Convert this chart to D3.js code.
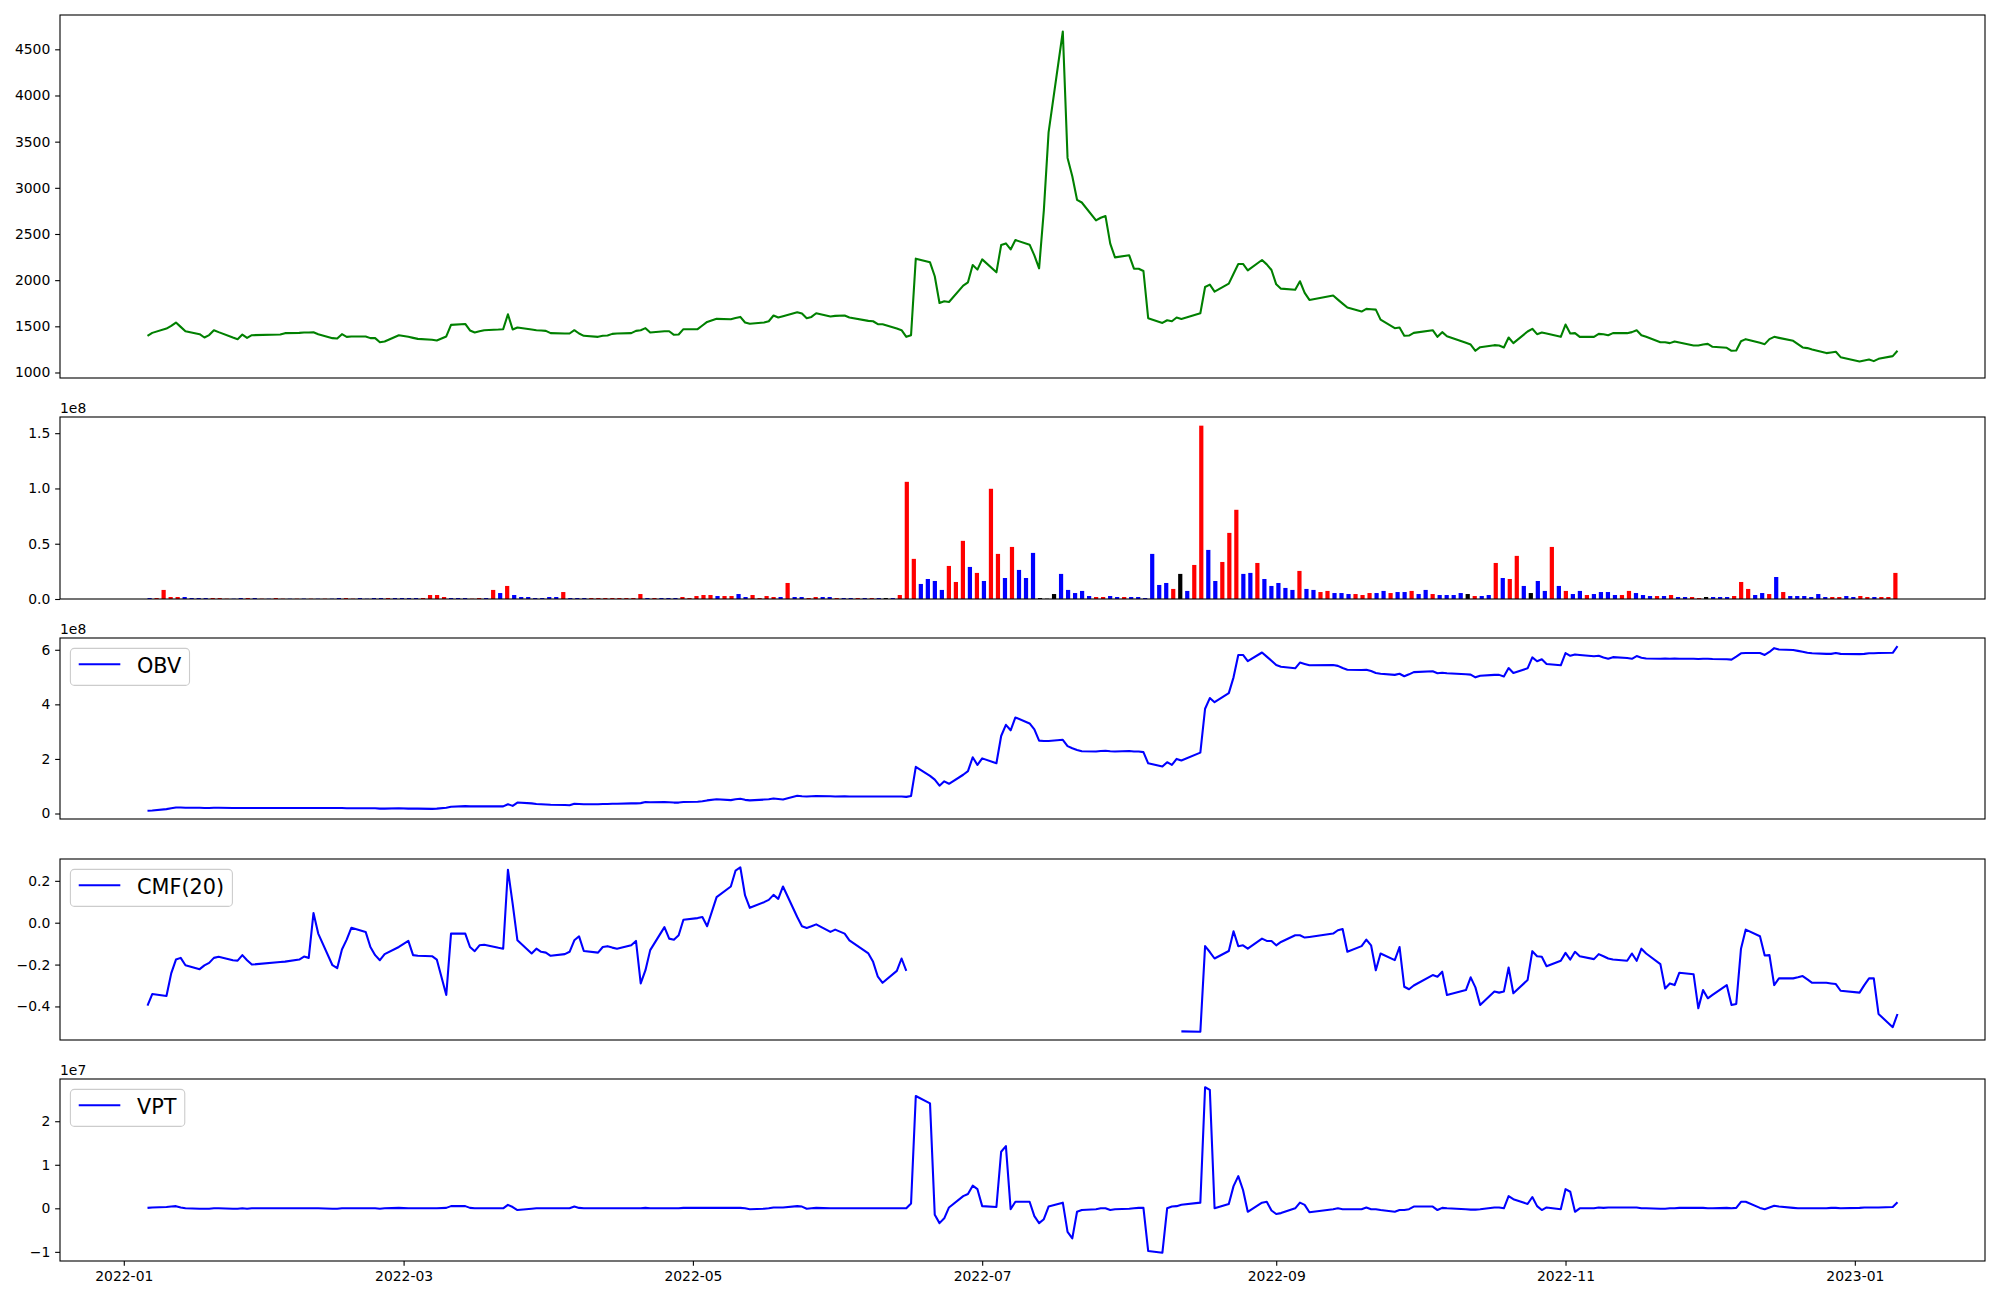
<!DOCTYPE html>
<html><head><meta charset="utf-8">
<script src="https://cdn.jsdelivr.net/npm/d3@7"></script>
<style>
html,body{margin:0;padding:0;background:#fff;}
svg{display:block;font-family:"DejaVu Sans",sans-serif;}
</style></head><body>
<svg id="chart" width="2000" height="1300"></svg>
<script>
// ---------------- DATA ----------------
const dates = [
"2022-01-06","2022-01-07","2022-01-10","2022-01-11","2022-01-12","2022-01-13","2022-01-14","2022-01-17","2022-01-18","2022-01-19","2022-01-20","2022-01-21","2022-01-24","2022-01-25","2022-01-26","2022-01-27","2022-01-28",
"2022-02-03","2022-02-04","2022-02-07","2022-02-08","2022-02-09","2022-02-10","2022-02-11","2022-02-14","2022-02-15","2022-02-16","2022-02-17","2022-02-18","2022-02-21","2022-02-22","2022-02-23","2022-02-24","2022-02-25","2022-02-28",
"2022-03-02","2022-03-03","2022-03-04","2022-03-07","2022-03-08","2022-03-10","2022-03-11","2022-03-14","2022-03-15","2022-03-16","2022-03-17","2022-03-18","2022-03-21","2022-03-22","2022-03-23","2022-03-24","2022-03-25","2022-03-28","2022-03-29","2022-03-30","2022-03-31",
"2022-04-01","2022-04-04","2022-04-05","2022-04-06","2022-04-07","2022-04-08","2022-04-11","2022-04-12","2022-04-13","2022-04-14","2022-04-15","2022-04-18","2022-04-19","2022-04-20","2022-04-21","2022-04-22","2022-04-25","2022-04-26","2022-04-27","2022-04-28","2022-04-29",
"2022-05-02","2022-05-03","2022-05-04","2022-05-06","2022-05-09","2022-05-10","2022-05-11","2022-05-12","2022-05-13","2022-05-16","2022-05-17","2022-05-18","2022-05-19","2022-05-20","2022-05-23","2022-05-24","2022-05-25","2022-05-26","2022-05-27","2022-05-30","2022-05-31",
"2022-06-02","2022-06-03","2022-06-07","2022-06-08","2022-06-09","2022-06-10","2022-06-13","2022-06-14","2022-06-15","2022-06-16","2022-06-17","2022-06-20","2022-06-21","2022-06-22","2022-06-23","2022-06-24","2022-06-27","2022-06-28","2022-06-29","2022-06-30",
"2022-07-01","2022-07-04","2022-07-05","2022-07-06","2022-07-07","2022-07-08","2022-07-11","2022-07-12","2022-07-13","2022-07-14","2022-07-15","2022-07-18","2022-07-19","2022-07-20","2022-07-21","2022-07-22","2022-07-25","2022-07-26","2022-07-27","2022-07-28","2022-07-29",
"2022-08-01","2022-08-02","2022-08-03","2022-08-04","2022-08-05","2022-08-08","2022-08-09","2022-08-10","2022-08-11","2022-08-12","2022-08-16","2022-08-17","2022-08-18","2022-08-19","2022-08-22","2022-08-23","2022-08-24","2022-08-25","2022-08-26","2022-08-29","2022-08-30","2022-08-31",
"2022-09-01","2022-09-02","2022-09-05","2022-09-06","2022-09-07","2022-09-08","2022-09-13","2022-09-14","2022-09-15","2022-09-16","2022-09-19","2022-09-20","2022-09-21","2022-09-22","2022-09-23","2022-09-26","2022-09-27","2022-09-28","2022-09-29","2022-09-30",
"2022-10-04","2022-10-05","2022-10-06","2022-10-07","2022-10-11","2022-10-12","2022-10-13","2022-10-14","2022-10-17","2022-10-18","2022-10-19","2022-10-20","2022-10-21","2022-10-24","2022-10-25","2022-10-26","2022-10-27","2022-10-28","2022-10-31",
"2022-11-01","2022-11-02","2022-11-03","2022-11-04","2022-11-07","2022-11-08","2022-11-09","2022-11-10","2022-11-11","2022-11-14","2022-11-15","2022-11-16","2022-11-17","2022-11-18","2022-11-21","2022-11-22","2022-11-23","2022-11-24","2022-11-25","2022-11-28","2022-11-29","2022-11-30",
"2022-12-01","2022-12-02","2022-12-05","2022-12-06","2022-12-07","2022-12-08","2022-12-09","2022-12-12","2022-12-13","2022-12-14","2022-12-15","2022-12-16","2022-12-19","2022-12-20","2022-12-21","2022-12-22","2022-12-23","2022-12-26","2022-12-27","2022-12-28","2022-12-29",
"2023-01-02","2023-01-03","2023-01-04","2023-01-05","2023-01-06","2023-01-09","2023-01-10"
];

const closePrice = [
1397,1429,1476,1505,1541,1494,1447,1415,1379,1405,1458,1437,1379,1361,1411,1375,1404,
1411,1426,1429,1433,1433,1436,1415,1372,1368,1415,1386,1390,1390,1372,1372,1328,1336,1404,
1386,1375,1364,1354,1346,1390,1516,1526,1455,1433,1447,1458,1465,1469,1631,1465,1487,1465,1458,1455,1451,
1426,1422,1422,1458,1422,1397,1386,1397,1400,1418,1422,1426,1451,1458,1480,1433,1447,1447,1408,1411,1469,
1469,1509,1548,1581,1577,1591,1602,1541,1527,1541,1555,1617,1595,1609,1653,1638,1588,1602,1642,1606,1613,
1617,1595,1559,1555,1523,1523,1476,1458,1386,1404,2233,2193,2042,1753,1771,1764,1941,1977,2164,2114,
2225,2085,2380,2398,2333,2434,2384,2269,2128,2755,3601,4693,3324,3126,2870,2841,2647,2676,2694,2395,2247,
2269,2124,2124,2099,1588,1537,1566,1555,1595,1580,1642,1926,1952,1876,1962,2070,2175,2175,2106,2218,2171,2110,
1955,1908,1897,1988,1862,1786,1833,1789,1746,1703,1660,1689,1685,1681,1573,1480,1487,1397,1400,1429,
1458,1386,1437,1393,1321,1303,1235,1274,1296,1292,1271,1379,1318,1444,1473,1415,1433,1422,1386,
1519,1422,1426,1386,1386,1418,1415,1404,1426,1426,1437,1458,1404,1386,1328,1328,1318,1336,1325,1292,1292,1303,
1310,1278,1267,1235,1238,1339,1361,1321,1307,1361,1386,1375,1343,1307,1271,1264,1249,1210,1217,1224,1166,
1119,1130,1141,1123,1148,1177,1235
];

// traded volume, millions of shares
const volumeM = [
0.9,0.9,8.2,1.8,1.8,1.8,0.9,0.9,0.9,0.9,0.9,0.3,0.3,0.9,0.9,0.9,0.3,
0.3,0.9,0.3,0.3,0.3,0.4,0.3,0.3,0.3,0.3,0.9,0.9,0.3,0.9,0.3,0.9,0.9,0.9,
0.9,0.9,0.9,0.9,0.9,3.6,3.6,1.8,0.9,0.9,0.9,0.3,0.9,0.9,8.2,5.4,11.8,3.6,1.8,1.8,0.9,
0.9,1.8,1.8,6.3,0.9,0.9,0.9,0.9,0.9,0.9,0.9,0.9,0.9,0.9,4.5,0.9,0.9,0.9,0.9,0.9,1.8,
0.9,2.7,3.6,3.6,2.7,2.7,2.7,4.5,1.8,3.6,0.9,2.7,1.8,1.8,14.5,1.8,1.8,0.9,1.8,1.8,1.8,
0.9,0.9,0.9,0.9,0.9,0.9,0.9,0.9,0.9,3.6,106,36.3,13.6,18.1,16.3,8.2,29.9,15.4,52.6,29.0,
23.6,16.3,99.7,40.8,19.0,47.1,26.3,19.0,41.7,0.9,0.3,4.5,22.7,8.2,5.4,7.3,2.7,1.8,1.8,2.7,1.8,
1.8,1.8,1.8,0.9,40.8,12.7,14.5,9.1,22.7,7.3,30.8,156.8,44.4,16.3,33.5,59.8,80.7,22.7,23.6,32.6,18.1,11.8,
14.5,10.0,8.2,25.4,9.1,8.2,6.3,7.3,5.4,5.4,4.5,4.5,3.6,5.4,5.4,7.3,5.4,6.3,6.3,7.3,
4.5,8.2,4.5,3.6,3.6,3.6,5.4,4.5,2.7,2.7,3.6,32.6,19.0,18.1,39.0,11.8,5.4,16.3,7.3,
47.1,11.8,7.3,4.5,7.3,3.6,4.5,6.3,6.3,3.6,3.6,7.3,5.4,3.6,2.7,2.7,2.7,3.6,1.8,1.8,1.8,0.9,
1.8,1.8,1.8,1.8,2.7,15.4,9.1,3.6,5.4,4.5,19.9,6.3,2.7,2.7,2.7,1.8,4.5,1.8,1.8,1.8,2.7,
1.8,2.7,1.8,1.8,1.8,1.8,23.6
];

// candle direction of each bar: 1 rising, -1 falling, 0 unchanged
const volumeDir = [
-1,1,1,1,1,-1,-1,-1,-1,1,1,1,-1,-1,1,-1,1,
-1,1,1,-1,1,-1,1,-1,1,-1,-1,1,1,-1,-1,-1,-1,1,
-1,-1,-1,-1,1,1,1,1,-1,-1,-1,1,1,-1,1,-1,1,-1,-1,-1,-1,
-1,-1,-1,1,-1,-1,-1,1,1,1,1,1,1,1,1,-1,1,-1,-1,-1,1,
1,1,1,1,-1,1,1,-1,-1,1,1,1,1,-1,1,-1,-1,1,1,-1,-1,
1,-1,-1,1,-1,1,-1,0,-1,1,1,1,-1,-1,-1,-1,1,1,1,-1,
1,-1,1,1,-1,1,-1,-1,-1,0,0,0,-1,-1,-1,-1,-1,1,1,-1,-1,
1,-1,-1,-1,-1,-1,-1,1,0,-1,1,1,-1,-1,1,1,1,-1,-1,1,-1,-1,
-1,-1,-1,1,-1,-1,1,1,-1,-1,-1,1,1,1,-1,-1,1,-1,-1,1,
-1,-1,1,-1,-1,-1,-1,0,1,-1,-1,1,-1,1,1,-1,0,-1,-1,
1,-1,1,-1,-1,1,-1,-1,-1,-1,1,1,-1,-1,-1,1,-1,1,-1,-1,1,1,
0,-1,-1,-1,1,1,1,-1,-1,1,-1,1,-1,-1,-1,-1,-1,-1,1,1,-1,
-1,1,1,-1,1,1,1
];

// On-balance volume, units of 1e8
const obvE8 = [
0.10,0.11,0.16,0.19,0.22,0.22,0.21,0.21,0.20,0.20,0.21,0.21,0.20,0.20,0.20,0.20,0.20,
0.20,0.20,0.20,0.20,0.20,0.20,0.20,0.20,0.20,0.20,0.19,0.19,0.19,0.19,0.19,0.18,0.18,0.19,
0.18,0.18,0.18,0.17,0.18,0.21,0.25,0.27,0.26,0.26,0.26,0.26,0.26,0.26,0.34,0.28,0.40,0.37,0.35,0.34,0.33,
0.32,0.31,0.30,0.36,0.35,0.34,0.34,0.35,0.35,0.36,0.36,0.37,0.37,0.38,0.42,0.41,0.42,0.41,0.40,0.40,0.42,
0.43,0.45,0.48,0.52,0.49,0.52,0.54,0.50,0.48,0.51,0.52,0.55,0.53,0.51,0.65,0.63,0.62,0.63,0.64,0.63,0.62,
0.63,0.62,0.62,0.62,0.62,0.62,0.62,0.62,0.61,0.64,1.71,1.38,1.24,1.02,1.18,1.09,1.42,1.55,2.06,1.78,
2.02,1.84,2.84,3.25,3.05,3.52,3.30,3.08,2.67,2.66,2.66,2.70,2.47,2.39,2.33,2.28,2.27,2.29,2.30,2.28,2.27,
2.29,2.27,2.27,2.25,1.84,1.72,1.88,1.78,2.00,1.94,2.23,3.84,4.23,4.08,4.41,4.99,5.81,5.81,5.58,5.90,5.75,5.60,
5.44,5.38,5.32,5.53,5.48,5.43,5.44,5.41,5.33,5.27,5.26,5.27,5.22,5.15,5.12,5.08,5.12,5.03,5.10,5.18,
5.21,5.14,5.16,5.14,5.10,5.09,4.99,5.05,5.08,5.08,5.02,5.33,5.15,5.32,5.72,5.58,5.65,5.48,5.43,
5.88,5.78,5.83,5.81,5.76,5.78,5.72,5.67,5.73,5.70,5.67,5.77,5.71,5.68,5.67,5.68,5.67,5.68,5.67,5.67,5.66,5.67,
5.67,5.66,5.65,5.64,5.75,5.87,5.88,5.88,5.81,5.92,6.06,6.01,5.99,5.96,5.93,5.89,5.87,5.85,5.85,5.88,5.85,
5.84,5.85,5.87,5.87,5.88,5.89,6.13
];

// Chaikin money flow (20), null where not available
const cmf20 = [
-0.396,-0.341,-0.350,-0.242,-0.176,-0.168,-0.203,-0.222,-0.204,-0.192,-0.168,-0.163,-0.179,-0.181,-0.155,-0.179,-0.200,
-0.188,-0.186,-0.176,-0.162,-0.168,0.046,-0.052,-0.203,-0.217,-0.128,-0.081,-0.024,-0.044,-0.116,-0.155,-0.179,-0.150,-0.116,
-0.087,-0.155,-0.158,-0.160,-0.176,-0.345,-0.052,-0.052,-0.116,-0.136,-0.108,-0.105,-0.120,-0.124,0.253,0.090,-0.084,-0.147,-0.124,-0.139,-0.143,
-0.158,-0.150,-0.139,-0.084,-0.065,-0.135,-0.143,-0.116,-0.112,-0.119,-0.124,-0.108,-0.087,-0.290,-0.227,-0.131,-0.021,-0.076,-0.081,-0.060,0.014,
0.022,0.027,-0.017,0.122,0.173,0.249,0.265,0.130,0.071,0.098,0.109,0.133,0.114,0.173,0.027,-0.017,-0.025,-0.017,-0.008,-0.044,-0.033,
-0.052,-0.084,-0.147,-0.187,-0.258,-0.287,-0.230,-0.171,-0.230,null,null,null,null,null,null,null,null,null,null,null,
null,null,null,null,null,null,null,null,null,null,null,null,null,null,null,null,null,null,null,null,null,
null,null,null,null,null,null,null,null,null,-0.519,-0.521,-0.112,-0.140,-0.171,-0.135,-0.041,-0.112,-0.108,-0.124,-0.076,-0.087,-0.087,
-0.108,-0.092,-0.060,-0.060,-0.071,-0.068,-0.052,-0.036,-0.030,-0.139,-0.112,-0.081,-0.108,-0.227,-0.147,-0.179,-0.116,-0.306,-0.318,-0.300,
-0.250,-0.258,-0.234,-0.345,-0.322,-0.261,-0.309,-0.393,-0.329,-0.334,-0.329,-0.214,-0.337,-0.274,-0.136,-0.160,-0.163,-0.208,-0.182,
-0.144,-0.176,-0.139,-0.160,-0.174,-0.150,-0.160,-0.171,-0.176,-0.182,-0.147,-0.182,-0.124,-0.147,-0.198,-0.314,-0.290,-0.298,-0.239,-0.246,-0.409,-0.322,
-0.361,-0.345,-0.298,-0.393,-0.388,-0.124,-0.033,-0.065,-0.157,-0.155,-0.298,-0.266,-0.266,-0.261,-0.255,-0.271,-0.287,-0.287,-0.290,-0.293,-0.325,
-0.334,-0.298,-0.266,-0.266,-0.436,-0.499,-0.436
];

// Volume price trend, units of 1e7
const vptE7 = [
0.01,0.02,0.03,0.04,0.05,0.02,0.00,-0.01,-0.01,-0.01,0.00,0.00,-0.01,-0.01,0.00,-0.01,0.00,
0.00,0.00,0.00,0.00,0.00,0.00,0.00,-0.01,-0.01,0.00,0.00,0.00,0.00,0.00,0.00,-0.01,0.00,0.01,
0.00,0.00,0.00,0.00,0.00,0.01,0.05,0.05,0.01,0.00,0.00,0.00,0.00,0.00,0.08,0.03,-0.04,-0.01,0.00,0.00,0.00,
0.00,0.00,0.00,0.04,0.01,0.00,0.00,0.00,0.00,0.00,0.00,0.00,0.00,0.00,0.01,0.00,0.00,0.00,0.00,0.00,0.01,
0.01,0.01,0.01,0.01,0.01,0.01,0.01,0.00,-0.02,-0.01,0.00,0.02,0.02,0.02,0.05,0.04,-0.01,0.00,0.01,0.00,0.00,
0.00,0.00,0.00,0.00,0.00,0.00,0.00,0.00,0.00,0.11,2.58,2.41,-0.15,-0.34,-0.23,0.02,0.28,0.33,0.52,0.44,
0.05,0.03,1.30,1.43,-0.02,0.15,0.15,-0.18,-0.34,-0.25,0.04,0.13,-0.54,-0.69,-0.08,-0.04,-0.02,0.00,0.00,-0.04,-0.02,
-0.01,0.00,0.01,0.01,-0.98,-1.02,0.00,0.04,0.05,0.08,0.13,2.78,2.72,0.00,0.10,0.51,0.74,0.42,-0.08,0.13,0.15,-0.05,
-0.13,-0.11,0.00,0.13,0.08,-0.09,-0.02,0.00,-0.02,-0.02,-0.02,0.02,-0.02,-0.02,-0.04,-0.08,-0.04,-0.04,-0.02,0.04,
0.04,-0.04,0.01,0.00,-0.02,-0.03,-0.03,-0.02,0.02,0.02,0.00,0.28,0.21,0.10,0.26,0.05,-0.04,0.02,-0.02,
0.44,0.38,-0.08,0.00,0.00,0.02,0.01,0.02,0.02,0.02,0.02,0.02,0.00,0.00,-0.01,-0.01,0.00,0.00,0.01,0.01,0.01,0.01,
0.00,0.00,0.01,0.00,0.01,0.15,0.15,0.01,-0.02,0.02,0.06,0.04,0.01,0.00,0.00,0.00,0.00,0.00,0.01,0.01,0.00,
0.01,0.02,0.02,0.02,0.02,0.03,0.14
];

// tick labels
const priceTicks = [1000,1500,2000,2500,3000,3500,4000,4500];
const volumeTicks = [0,50,100,150];            // millions
const volumeTickLabels = ["0.0","0.5","1.0","1.5"];
const obvTicks = [0,2,4,6];
const cmfTicks = [-0.4,-0.2,0.0,0.2];
const cmfTickLabels = ["\u22120.4","\u22120.2","0.0","0.2"];
const vptTicks = [-1,0,1,2];
const vptTickLabels = ["\u22121","0","1","2"];
const dateTicks = ["2022-01-01","2022-03-01","2022-05-01","2022-07-01","2022-09-01","2022-11-01","2023-01-01"];

// ---------------- LAYOUT ----------------
const L = 60, R = 1985;
const P = [
  {top:15,  bottom:378},
  {top:417, bottom:599},
  {top:638, bottom:819},
  {top:859, bottom:1040},
  {top:1079,bottom:1261}
];
const FS = 13.9, TICK = 4.86, LW = 2.08, SPINE = 1.1;
const BLUE = "#0000ff", GREEN = "#008000";
const barColor = d => d > 0 ? "#ff0000" : (d < 0 ? "#0000ff" : "#000000");

const svg = d3.select("#chart");
const parse = d3.utcParse("%Y-%m-%d");
const T = dates.map(parse);
const span = T[T.length-1] - T[0];
const x = d3.scaleUtc()
  .domain([new Date(+T[0] - 0.05*span), new Date(+T[T.length-1] + 0.05*span)])
  .range([L, R]);

function padded(vals){
  const e = d3.extent(vals.filter(v => v != null));
  const p = (e[1]-e[0])*0.05;
  return [e[0]-p, e[1]+p];
}

const defs = svg.append("defs");
P.forEach((p,i) => {
  defs.append("clipPath").attr("id","clip"+i)
    .append("rect").attr("x",L).attr("y",p.top).attr("width",R-L).attr("height",p.bottom-p.top);
});

function yAxis(p, scale, ticks, labels){
  const g = svg.append("g").attr("transform",`translate(${L},0)`)
    .call(d3.axisLeft(scale).tickValues(ticks)
      .tickFormat((d,i) => labels ? labels[i] : String(d))
      .tickSize(TICK).tickPadding(TICK));
  g.select(".domain").remove();
  g.selectAll("line").attr("stroke","#000").attr("stroke-width",SPINE);
  g.selectAll("text").attr("font-size",FS).attr("font-family","DejaVu Sans").attr("fill","#000");
}
function frame(p){
  svg.append("rect").attr("x",L).attr("y",p.top).attr("width",R-L).attr("height",p.bottom-p.top)
    .attr("fill","none").attr("stroke","#000").attr("stroke-width",SPINE);
}
function offsetLabel(p, txt){
  svg.append("text").attr("x",L).attr("y",p.top-4).attr("font-size",FS)
    .attr("font-family","DejaVu Sans").text(txt);
}
function legend(p, label){
  const fs = 20.8, bx = L + 0.5*fs, by = p.top + 0.5*fs;
  const g = svg.append("g");
  const rect = g.append("rect");
  g.append("line").attr("x1",bx+0.4*fs).attr("x2",bx+2.4*fs)
    .attr("y1",by+15.9).attr("y2",by+15.9).attr("stroke",BLUE).attr("stroke-width",LW);
  const t = g.append("text").attr("x",bx+3.2*fs).attr("y",by+24.1)
    .attr("font-size",fs).attr("font-family","DejaVu Sans").text(label);
  const tw = t.node().getComputedTextLength();
  rect.attr("x",bx).attr("y",by).attr("width",3.2*fs+tw+0.4*fs).attr("height",37)
    .attr("rx",4).attr("fill","#fff").attr("fill-opacity",0.8)
    .attr("stroke","#cccccc").attr("stroke-width",1.1);
}
function linePanel(i, vals, color){
  const p = P[i];
  const y = d3.scaleLinear().domain(padded(vals)).range([p.bottom, p.top]);
  const line = d3.line().defined(d => d[1] != null).x(d => x(d[0])).y(d => y(d[1]));
  svg.append("path").datum(T.map((t,k) => [t, vals[k]]))
    .attr("clip-path",`url(#clip${i})`)
    .attr("d", line).attr("fill","none").attr("stroke",color)
    .attr("stroke-width",LW).attr("stroke-linejoin","round");
  return y;
}

// Panel 1: price
{
  const y = linePanel(0, closePrice, GREEN);
  yAxis(P[0], y, priceTicks);
  frame(P[0]);
}

// Panel 2: volume bars (index positions)
{
  const p = P[1], N = volumeM.length, w = 0.6;
  const lo = -w/2, hi = N-1+w/2, pad = 0.05*(hi-lo);
  const xb = d3.scaleLinear().domain([lo-pad, hi+pad]).range([L,R]);
  const y = d3.scaleLinear().domain([0, d3.max(volumeM)*1.05]).range([p.bottom, p.top]);
  svg.append("g").attr("clip-path","url(#clip1)").selectAll("rect").data(volumeM).join("rect")
    .attr("x",(d,k) => xb(k - w/2)).attr("width", xb(w) - xb(0))
    .attr("y", d => y(d)).attr("height", d => y(0) - y(d))
    .attr("fill",(d,k) => barColor(volumeDir[k]));
  yAxis(p, y, volumeTicks, volumeTickLabels);
  frame(p);
  offsetLabel(p, "1e8");
}

// Panel 3: OBV
{
  const y = linePanel(2, obvE8, BLUE);
  yAxis(P[2], y, obvTicks);
  frame(P[2]);
  offsetLabel(P[2], "1e8");
  legend(P[2], "OBV");
}

// Panel 4: CMF
{
  const y = linePanel(3, cmf20, BLUE);
  yAxis(P[3], y, cmfTicks, cmfTickLabels);
  frame(P[3]);
  legend(P[3], "CMF(20)");
}

// Panel 5: VPT + date axis
{
  const y = linePanel(4, vptE7, BLUE);
  yAxis(P[4], y, vptTicks, vptTickLabels);
  frame(P[4]);
  offsetLabel(P[4], "1e7");
  legend(P[4], "VPT");
  const g = svg.append("g").attr("transform",`translate(0,${P[4].bottom})`)
    .call(d3.axisBottom(x).tickValues(dateTicks.map(parse))
      .tickFormat(d3.utcFormat("%Y-%m")).tickSize(TICK).tickPadding(TICK));
  g.select(".domain").remove();
  g.selectAll("line").attr("stroke","#000").attr("stroke-width",SPINE);
  g.selectAll("text").attr("font-size",FS).attr("font-family","DejaVu Sans")
    .attr("fill","#000").attr("dy","0.76em");
}
</script>
</body></html>
